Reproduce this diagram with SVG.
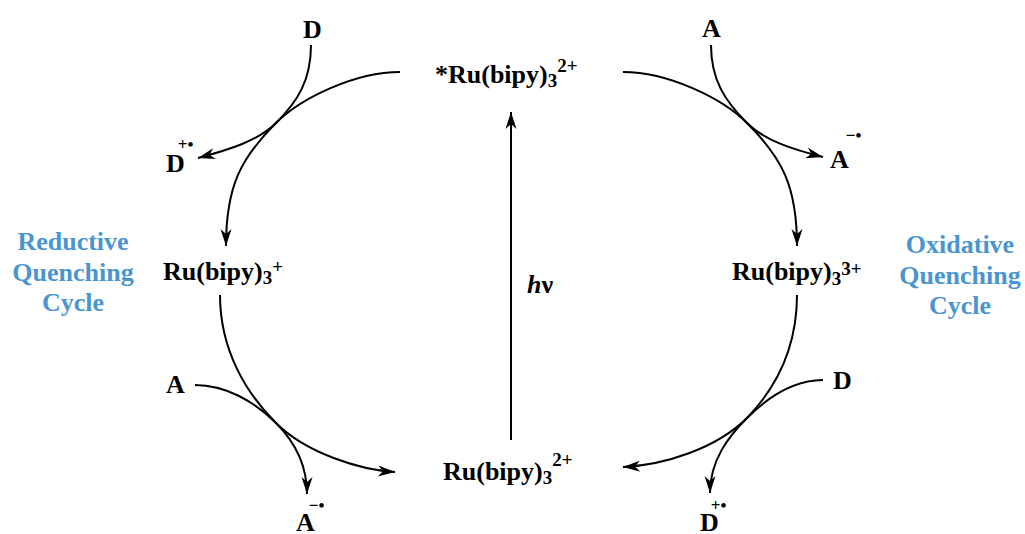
<svg xmlns="http://www.w3.org/2000/svg" width="1025" height="534" viewBox="0 0 1025 534">
<style>
.t{font-family:"Liberation Serif","Times New Roman",serif;font-weight:bold;font-size:26px;fill:#000}
.s{font-size:19px}
.r{font-size:17px}
.b{font-family:"Liberation Serif","Times New Roman",serif;font-weight:bold;font-size:26px;fill:#4a95d0;text-anchor:middle}
.c{fill:none;stroke:#000;stroke-width:2}
</style>
<defs>
<marker id="ah" markerUnits="userSpaceOnUse" markerWidth="20" markerHeight="14" viewBox="-18 -7 20 14" refX="0" refY="0" orient="auto">
<path d="M0,0 L-17,-5.5 L-12,0 L-17,5.5 Z" fill="#000"/>
</marker>
</defs>
<g id="connectors">
<path class="c" d="M511,440 L511,112" marker-end="url(#ah)"/>
<path class="c" d="M400,72 C355,72 301,98 276,123 C241,158 226,186 226,246" marker-end="url(#ah)"/>
<path class="c" d="M311,45 C311,80 298,101 276,123 C258,141 228,150 198,158" marker-end="url(#ah)"/>
<path class="c" d="M220,295 C220,350 246,393 276,423 C306,453 360,470 395,472" marker-end="url(#ah)"/>
<path class="c" d="M195,385 C225,385 254,401 276,423 C294,441 307,465 307,494" marker-end="url(#ah)"/>
<path class="c" d="M623,72 C668,72 722,98 747,123 C782,158 797,186 797,246" marker-end="url(#ah)"/>
<path class="c" d="M711,45 C711,80 725,101 747,123 C765,141 795,150 823,157" marker-end="url(#ah)"/>
<path class="c" d="M797,295 C797,350 774,390 747,418 C717,448 665,465 623,467" marker-end="url(#ah)"/>
<path class="c" d="M823,380 C795,380 769,396 747,418 C729,436 710,460 710,493" marker-end="url(#ah)"/>
</g>
<g id="excited"><text class="t" x="435" y="83">*Ru(bipy)<tspan class="s" dy="4">3</tspan><tspan class="s" dy="-15">2+</tspan></text></g>
<g id="ground"><text class="t" x="443" y="480">Ru(bipy)<tspan class="s" dy="4">3</tspan><tspan class="s" dy="-18">2+</tspan></text></g>
<g id="reduced"><text class="t" x="163" y="280">Ru(bipy)<tspan class="s" dy="4">3</tspan><tspan class="s" dy="-11">+</tspan></text></g>
<g id="oxidized"><text class="t" x="732" y="280">Ru(bipy)<tspan class="s" dy="5">3</tspan><tspan class="s" dy="-10">3+</tspan></text></g>
<g id="hv"><text class="t" x="527" y="293"><tspan font-style="italic">h</tspan>ν</text></g>
<g id="D1"><text class="t" x="303" y="38">D</text></g>
<g id="D1p"><text class="t" x="166" y="172">D<tspan class="r" dx="-7" dy="-22">+•</tspan></text></g>
<g id="A1"><text class="t" x="702" y="37">A</text></g>
<g id="A1m"><text class="t" x="830" y="168">A<tspan class="r" dx="-3" dy="-27">−•</tspan></text></g>
<g id="A2"><text class="t" x="166" y="393">A</text></g>
<g id="A2m"><text class="t" x="296" y="531">A<tspan class="r" dx="-6" dy="-20">−•</tspan></text></g>
<g id="D2"><text class="t" x="833" y="389">D</text></g>
<g id="D2p"><text class="t" x="700" y="531">D<tspan class="r" dx="-8" dy="-20">+•</tspan></text></g>
<g id="reductive"><text class="b" x="73" y="250">Reductive</text><text class="b" x="73" y="281">Quenching</text><text class="b" x="73" y="311">Cycle</text></g>
<g id="oxidative"><text class="b" x="960" y="253">Oxidative</text><text class="b" x="960" y="284">Quenching</text><text class="b" x="960" y="314">Cycle</text></g>
</svg>
